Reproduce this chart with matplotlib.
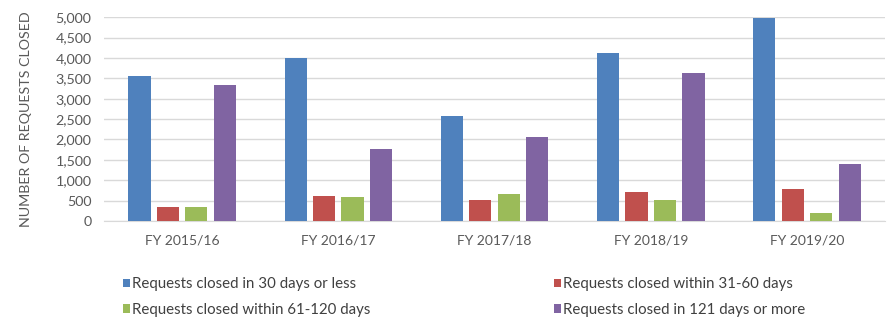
import matplotlib
matplotlib.use("Agg")
import matplotlib.pyplot as plt
import numpy as np

categories = ["FY 2015/16", "FY 2016/17", "FY 2017/18", "FY 2018/19", "FY 2019/20"]
series_names = ["Requests closed in 30 days or less",
                "Requests closed within 31-60 days",
                "Requests closed within 61-120 days",
                "Requests closed in 121 days or more"]
closed_30 = [3560, 4000, 2570, 4130, 4990]
closed_31_60 = [350, 620, 525, 705, 785]
closed_61_120 = [350, 600, 655, 505, 205]
closed_121 = [3345, 1760, 2065, 3635, 1400]
y_ticks = [0, 500, 1000, 1500, 2000, 2500, 3000, 3500, 4000, 4500, 5000]
colors = ["#4F81BD", "#C0504D", "#9BBB59", "#8064A2"]

plt.rcParams['font.family'] = ['Lato', 'DejaVu Sans']
fig = plt.figure(figsize=(8.95, 3.29), dpi=100)
ax = fig.add_axes([0.1162, 0.328, 0.989 - 0.1162, 0.948 - 0.328])

x = np.arange(len(categories))
pitch = 0.182
width = 0.142
handles = []
for i, (vals, c, name) in enumerate(zip([closed_30, closed_31_60, closed_61_120, closed_121], colors, series_names)):
    h = ax.bar(x + (i - 1.5) * pitch, vals, width=width, color=c, label=name, zorder=3)
    handles.append(h)

ax.set_xlim(-0.5, len(categories) - 0.5)
ax.set_ylim(0, 5000)
ax.set_yticks(y_ticks)
ax.set_yticklabels([f"{v:,}" for v in y_ticks], fontsize=10.3, color="#595959")
ax.set_xticks(x)
ax.set_xticklabels(categories, fontsize=10, color="#595959")
ax.tick_params(axis='both', length=0)
ax.tick_params(axis='x', pad=10)
ax.tick_params(axis='y', pad=9)
ax.grid(axis='y', color="#D9D9D9", linewidth=1, zorder=0)
for s in ["top", "right", "left"]:
    ax.spines[s].set_visible(False)
ax.spines["bottom"].set_color("#D9D9D9")
ax.set_ylabel("NUMBER OF REQUESTS CLOSED", fontsize=10.3, color="#595959", labelpad=17)

order = [0, 2, 1, 3]
leg = fig.legend([handles[i] for i in order], [series_names[i] for i in order],
                 loc="upper left", bbox_to_anchor=(0.137, 0.157), ncol=2, frameon=False,
                 fontsize=10.8, handlelength=0.5, handleheight=0.5, handletextpad=0.15,
                 columnspacing=12.2, labelspacing=0.75, borderaxespad=0, borderpad=0)
for t in leg.get_texts():
    t.set_color("#404040")

fig.savefig("out.png", dpi=100)
